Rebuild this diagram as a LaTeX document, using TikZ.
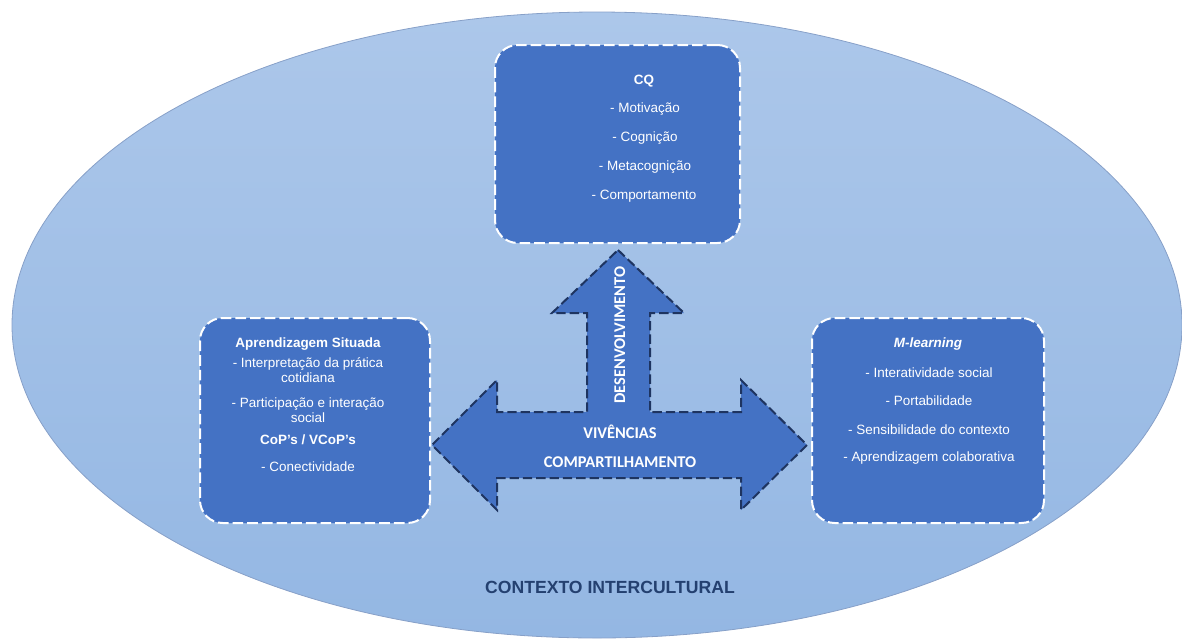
\documentclass[tikz,border=0pt]{standalone}
\usepackage{fontspec}
\setmainfont{Liberation Sans}
\newfontfamily\calfont{Carlito}
\usetikzlibrary{shapes.geometric}
\definecolor{boxblue}{RGB}{68,114,196}
\definecolor{arrowedge}{RGB}{30,52,96}
\definecolor{elltop}{RGB}{172,199,234}
\definecolor{ellbot}{RGB}{148,183,227}
\definecolor{ellline}{RGB}{135,160,200}
\definecolor{ctxtext}{RGB}{36,64,112}
\tikzset{
  ctxshape/.style={ellipse, draw=ellline, line width=0.6pt, top color=elltop, bottom color=ellbot, inner sep=0pt},
  infobox/.style={draw=white, fill=boxblue, line width=1.5pt, dash pattern=on 8pt off 3pt, rounded corners=17pt, inner sep=0pt},
  bigarrow/.style={draw=arrowedge, fill=boxblue, line width=1.5pt, dash pattern=on 7pt off 3pt, line join=miter},
  boxtxt/.style={text=white, font=\fontsize{10.1}{12}\selectfont, inner sep=0pt, text height=7.2pt, text depth=0pt},
  boxtitle/.style={boxtxt, font=\fontsize{10.1}{12}\selectfont\bfseries},
  arrtxt/.style={text=white, font=\calfont\fontsize{12.3}{14}\selectfont\bfseries, inner sep=0pt, text height=7.8pt, text depth=0pt},
  ctxtxt/.style={text=ctxtext, font=\fontsize{13.2}{15}\selectfont\bfseries, inner sep=0pt, text height=9.5pt, text depth=0pt}
}
\begin{document}
\begin{tikzpicture}[x=0.75pt,y=-0.75pt]
\useasboundingbox (0,0) rectangle (1182,640);
% background ellipse
\node (ctx) [ctxshape, minimum width=877.5pt, minimum height=469.5pt] at (597,325) {};
% boxes
\node (cq) [infobox, minimum width=183.75pt, minimum height=148.5pt] at (617.5,144) {};
\node (as) [infobox, minimum width=172.5pt, minimum height=153.75pt] at (315,420.5) {};
\node (ml) [infobox, minimum width=174pt, minimum height=153.75pt] at (928,420.5) {};
% arrows
\coordinate (upTip) at (618,250);
\coordinate (leftTip) at (432,445);
\coordinate (rightTip) at (807,445);
\path[bigarrow] (upTip) -- (684,313) -- (650,313) -- (650,412) -- (741,412) -- (741,380)
  -- (rightTip) -- (741,510) -- (741,478) -- (497,478) -- (497,510) -- (leftTip)
  -- (497,380) -- (497,412) -- (587,412) -- (587,313) -- (552,313) -- cycle;
% CQ text
\node (cq0) [boxtitle] at (644,80) {CQ};
\node (cq1) [boxtxt] at (645,108) {- Motivação};
\node (cq2) [boxtxt] at (645,137) {- Cognição};
\node (cq3) [boxtxt] at (645,166) {- Metacognição};
\node (cq4) [boxtxt] at (644,195) {- Comportamento};
% Aprendizagem situada text
\node (as0) [boxtitle] at (308,343) {Aprendizagem Situada};
\node (as1) [boxtxt] at (308,363) {- Interpretação da prática};
\node (as2) [boxtxt] at (308,378) {cotidiana};
\node (as3) [boxtxt] at (308,403) {- Participação e interação};
\node (as4) [boxtxt] at (308,418) {social};
\node (as5) [boxtitle] at (308,440) {CoP’s / VCoP’s};
\node (as6) [boxtxt] at (308,467) {- Conectividade};
% M-learning text
\node (ml0) [boxtitle] at (928,343) {\itshape M-learning};
\node (ml1) [boxtxt] at (929,373) {- Interatividade social};
\node (ml2) [boxtxt] at (929,401) {- Portabilidade};
\node (ml3) [boxtxt] at (929,430) {- Sensibilidade do contexto};
\node (ml4) [boxtxt] at (929,457) {- Aprendizagem colaborativa};
% arrow labels
\node (dev) [arrtxt, rotate=90] at (620,335) {DESENVOLVIMENTO};
\node (viv) [arrtxt] at (620,433) {VIVÊNCIAS};
\node (comp) [arrtxt] at (620,462) {COMPARTILHAMENTO};
% context label
\node (ctxl) [ctxtxt] at (610,587) {CONTEXTO INTERCULTURAL};
\end{tikzpicture}
\end{document}
